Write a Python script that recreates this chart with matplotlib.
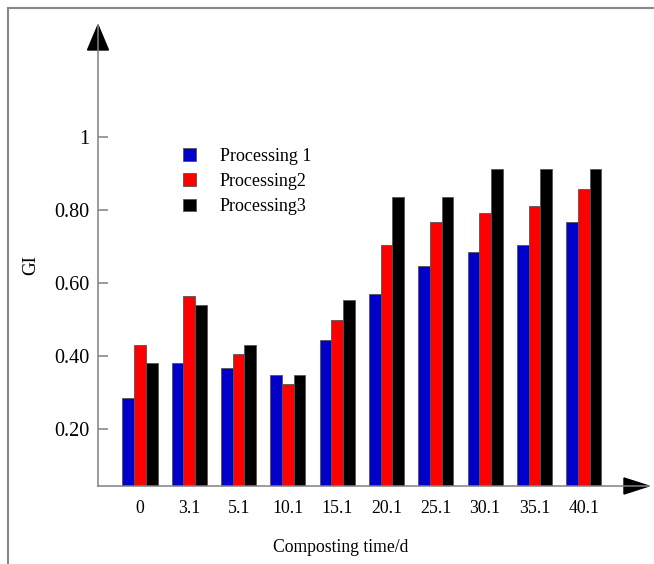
import matplotlib.pyplot as plt
import numpy as np
from matplotlib.patches import Patch, Polygon
from matplotlib.lines import Line2D

plt.rcParams['font.family'] = ['Liberation Serif', 'DejaVu Serif']

days = ['0', '3.1', '5.1', '10.1', '15.1', '20.1', '25.1', '30.1', '35.1', '40.1']
proc1 = [0.286, 0.380, 0.367, 0.348, 0.444, 0.571, 0.647, 0.685, 0.703, 0.768]
proc2 = [0.430, 0.565, 0.405, 0.324, 0.500, 0.704, 0.768, 0.792, 0.812, 0.856]
proc3 = [0.380, 0.540, 0.431, 0.348, 0.553, 0.836, 0.836, 0.912, 0.912, 0.912]
labels = ['Processing 1', 'Processing2', 'Processing3']
colors = ['#0000c8', '#ff0000', '#000000']
yticks = [0.2, 0.4, 0.6, 0.8, 1.0]
ytick_labels = ['0.20', '0.40', '0.60', '0.80', '1']

W, H = 654, 564
fig = plt.figure(figsize=(W / 100, H / 100), dpi=100)
# axes box: left 98px, right 649px, top 25px, bottom 486px
ax = fig.add_axes([98 / W, (H - 486) / H, (649 - 98) / W, (486 - 25) / H])

x = np.arange(len(days))
w = 0.237
for i, (vals, c) in enumerate(zip([proc1, proc2, proc3], colors)):
    ax.bar(x + (i - 1) * w, vals, width=w, color=c, edgecolor='#555555', linewidth=0.6)

ax.set_xlim(-0.852, 10.325)
ax.set_ylim(0.0444, 1.306)

for s in ax.spines.values():
    s.set_visible(False)

axis_col = '#808080'
ax.plot([0, 1], [0, 0], transform=ax.transAxes, color=axis_col, lw=1.1, clip_on=False)
ax.plot([0, 0], [0, 1], transform=ax.transAxes, color=axis_col, lw=1.1, clip_on=False)
# arrow heads
ax.add_patch(Polygon([[0.9546, -0.0174], [1.0, 0], [0.9546, 0.0174]], closed=True,
                     transform=ax.transAxes, color='black', clip_on=False))
ax.add_patch(Polygon([[-0.019, 0.9458], [0, 1.0], [0.019, 0.9458]], closed=True,
                     transform=ax.transAxes, color='black', clip_on=False))

ax.set_yticks(yticks)
ax.set_yticklabels(ytick_labels, fontsize=14.5)
ax.tick_params(axis='y', direction='in', length=7.2, width=1.1, color=axis_col, pad=6)
ax.set_xticks(x)
ax.set_xticklabels(days, fontsize=12.8)
ax.tick_params(axis='x', length=0, pad=10)

fig.text(341 / W, 1 - 548 / H, 'Composting time/d', ha='center', va='center', fontsize=12.7)
fig.text(31 / W, 1 - 265 / H, 'GI', ha='center', va='center', rotation=90, fontsize=13.7)

handles = [Patch(facecolor=c, edgecolor='#555555', linewidth=0.6) for c in colors]
fig.legend(handles, labels, loc='upper left', bbox_to_anchor=(183 / W, 1 - 148 / H),
           frameon=False, fontsize=13, handlelength=0.7, handleheight=0.7,
           handletextpad=1.35, labelspacing=0.45, borderpad=0, borderaxespad=0)

# outer border lines (top and left)
fig.add_artist(Line2D([7.5 / W, 1], [1 - 7.5 / H, 1 - 7.5 / H], color='#888888', lw=1.5))
fig.add_artist(Line2D([7.5 / W, 7.5 / W], [0, 1 - 7.5 / H], color='#888888', lw=1.5))

fig.savefig('out.png', dpi=100)
